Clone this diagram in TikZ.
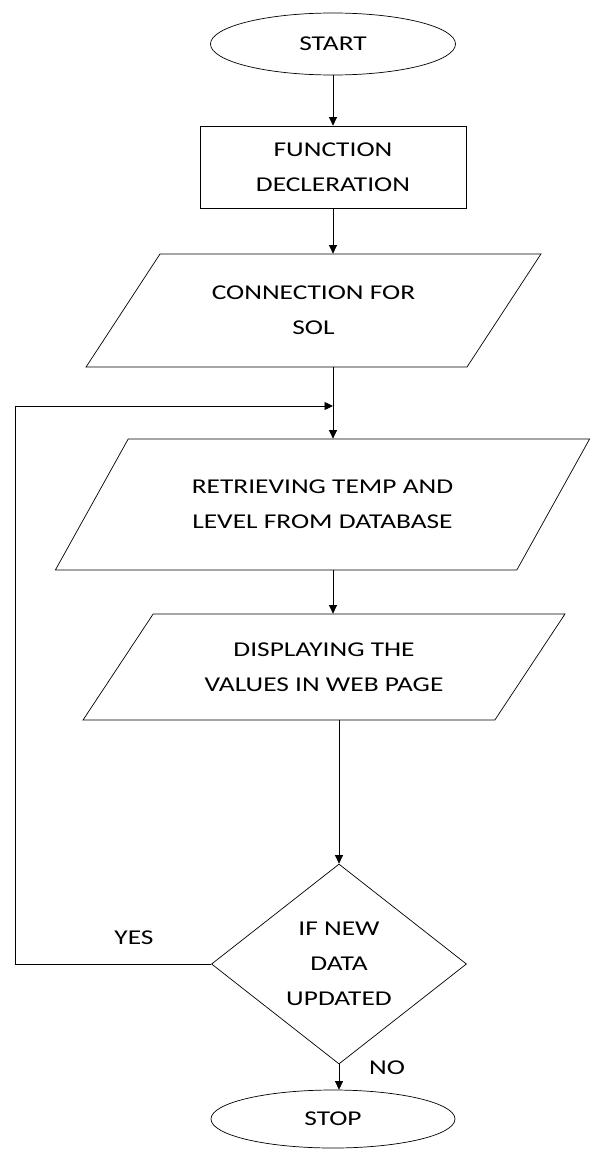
\documentclass[tikz,border=0pt]{standalone}
\usepackage{fontspec}
\setmainfont[FakeStretch=1.3]{Carlito}
\usetikzlibrary{arrows.meta, shapes.geometric}

\begin{document}
\begin{tikzpicture}[>={Triangle[length=1.7mm,width=1.6mm]},
  every node/.style={font=\fontsize{12}{20}\selectfont, align=center},
  term/.style={draw, ellipse, inner sep=0pt, minimum width=#1},
  proc/.style={draw, rectangle, inner sep=0pt},
  io/.style={draw, trapezium, trapezium left angle=45, trapezium right angle=135,
    trapezium stretches=true, inner sep=0pt},
  decision/.style={draw, diamond, inner sep=0pt}]
  \useasboundingbox (0,0) rectangle (11.88,-23.18);

  % Start and declarations
  \node[term=4.9cm, minimum height=1.24cm] (start) at (6.66,-0.88) {START};
  \node[proc, minimum width=5.32cm, minimum height=1.64cm] (decl) at (6.66,-3.34)
    {FUNCTION\\DECLERATION};

  % Input / output steps
  \node[io, minimum width=9.1cm, minimum height=2.26cm] (sql) at (6.27,-6.21)
    {CONNECTION FOR\\SOL};
  \node[io, minimum width=10.7cm, minimum height=2.62cm] (fetch) at (6.45,-10.09)
    {RETRIEVING TEMP AND\\LEVEL FROM DATABASE};
  \node[io, minimum width=9.64cm, minimum height=2.12cm] (show) at (6.48,-13.34)
    {DISPLAYING THE\\VALUES IN WEB PAGE};

  % Decision and end
  \node[decision, minimum width=5.1cm, minimum height=4.0cm] (upd) at (6.78,-19.28)
    {IF NEW\\DATA\\UPDATED};
  \node[term=4.88cm, minimum height=1.16cm] (stop) at (6.66,-22.38) {STOP};

  % Loop back points
  \coordinate (join) at (6.66,-8.12);
  \coordinate (loopcorner) at (0.3,-8.12);

  % Flow
  \draw[->] (start) -- (decl);
  \draw[->] (decl) -- (decl.south |- sql.north);
  \draw[->] (decl.south |- sql.south) -- (decl.south |- fetch.north);
  \draw[->] (decl.south |- fetch.south) -- (decl.south |- show.north);
  \draw[->] (upd.north |- show.south) -- (upd);
  \draw[->] (upd) -- (upd.south |- stop.north);
  \draw[->] (upd.west) -| (loopcorner) -- (join);

  % Branch labels
  \node (yes) at (2.68,-18.76) {YES};
  \node (no) at (7.74,-21.36) {NO};
\end{tikzpicture}
\end{document}
